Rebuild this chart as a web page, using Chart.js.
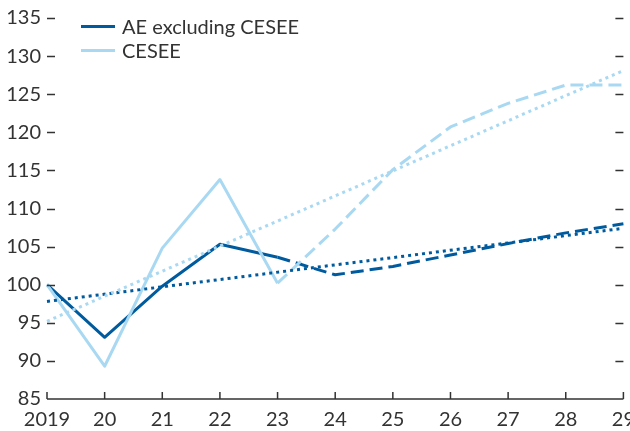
<!DOCTYPE html>
<html>
<head>
<meta charset="utf-8">
<script src="https://cdn.jsdelivr.net/npm/chart.js@4"></script>
<style>
  html, body { margin: 0; padding: 0; background: #fff; overflow: hidden; }
  #wrap { position: relative; width: 644px; height: 431px; }
  #leyenda { position: absolute; left: 81px; top: 14px; font-family: Lato, sans-serif; font-size: 20px; color: #333; }
  .item { display: flex; align-items: center; height: 24px; }
  .linea { width: 34px; height: 3px; margin-right: 7px; }
</style>
</head>
<body>
<div id="wrap">
  <canvas id="miGrafico" width="644" height="431"></canvas>
  <div id="leyenda"></div>
</div>
<script>
// Datos
const anios = ['2019', '20', '21', '22', '23', '24', '25', '26', '27', '28', '29'];
const valoresAE = [100, 93.1, 99.8, 105.3, 103.6, 101.3, 102.4, 103.9, 105.4, 106.8, 108.0];
const valoresCESEE = [100, 89.3, 104.8, 113.8, 100.2, 107.3, 115.1, 120.7, 123.8, 126.2, 126.2];
const tendenciaAE = [97.8, 107.4];      // primer y último año
const tendenciaCESEE = [95.2, 128.1];   // primer y último año
const inicioProyeccion = 4;             // 2023
const ticksY = [85, 90, 95, 100, 105, 110, 115, 120, 125, 130, 135];

const etiquetas = ['AE excluding CESEE', 'CESEE'];
const colorAE = '#005b9e';
const colorCESEE = '#a9d9f2';
const colorTexto = '#333333';

const extremos = (par) => anios.map((_, i) => i === 0 ? par[0] : (i === anios.length - 1 ? par[1] : null));

const serie = (label, data, color) => ({
    label,
    data,
    borderColor: color,
    borderWidth: 3,
    pointRadius: 0,
    tension: 0,
    borderJoinStyle: 'round',
    segment: {
        borderDash: ctx => ctx.p0DataIndex >= inicioProyeccion ? [13, 6] : undefined
    }
});

const tendencia = (data, color) => ({
    label: 'trend',
    data: extremos(data),
    borderColor: color,
    borderWidth: 3,
    borderDash: [3, 4],
    pointRadius: 0,
    spanGaps: true
});

// Marcas de los ejes dibujadas hacia dentro
const marcasEjes = {
    id: 'marcasEjes',
    afterDatasetsDraw(chart) {
        const { ctx, chartArea, scales } = chart;
        ctx.save();
        ctx.strokeStyle = colorTexto;
        ctx.lineWidth = 1.5;
        ctx.beginPath();
        ticksY.forEach(v => {
            if (v === 85) return;
            const y = Math.round(scales.y.getPixelForValue(v)) + 0.5;
            ctx.moveTo(chartArea.left, y);
            ctx.lineTo(chartArea.left + 8, y);
            ctx.moveTo(chartArea.right - 8, y);
            ctx.lineTo(chartArea.right, y);
        });
        anios.forEach((_, i) => {
            const x = scales.x.getPixelForValue(i);
            ctx.moveTo(x, chartArea.bottom);
            ctx.lineTo(x, chartArea.bottom - 7);
        });
        ctx.moveTo(chartArea.left, chartArea.bottom);
        ctx.lineTo(chartArea.right, chartArea.bottom);
        ctx.stroke();
        ctx.restore();
    }
};

new Chart(document.getElementById('miGrafico').getContext('2d'), {
    type: 'line',
    data: {
        labels: anios,
        datasets: [
            tendencia(tendenciaCESEE, colorCESEE),
            tendencia(tendenciaAE, colorAE),
            serie(etiquetas[1], valoresCESEE, colorCESEE),
            serie(etiquetas[0], valoresAE, colorAE)
        ]
    },
    options: {
        responsive: false,
        animation: false,
        layout: { padding: { top: 15, right: 0, left: 0, bottom: 0 } },
        plugins: {
            legend: { display: false },
            tooltip: { enabled: false }
        },
        scales: {
            x: {
                offset: false,
                grid: { display: false, drawTicks: false },
                border: { display: false },
                ticks: {
                    color: colorTexto,
                    font: { family: 'Lato', size: 20 },
                    padding: 9,
                    maxRotation: 0,
                    autoSkip: false
                },
                afterFit: s => { s.height = 32; }
            },
            y: {
                min: 85,
                max: 135,
                grid: { display: false, drawTicks: false },
                border: { display: false },
                ticks: {
                    stepSize: 5,
                    color: colorTexto,
                    font: { family: 'Lato', size: 20 },
                    padding: 6
                },
                afterFit: s => { s.width = 47; }
            }
        }
    },
    plugins: [marcasEjes]
});

// Leyenda
const leyenda = document.getElementById('leyenda');
[[etiquetas[0], colorAE], [etiquetas[1], colorCESEE]].forEach(([txt, color]) => {
    const item = document.createElement('div');
    item.className = 'item';
    item.innerHTML = `<span class="linea" style="background:${color}"></span><span>${txt}</span>`;
    leyenda.appendChild(item);
});
</script>
</body>
</html>
